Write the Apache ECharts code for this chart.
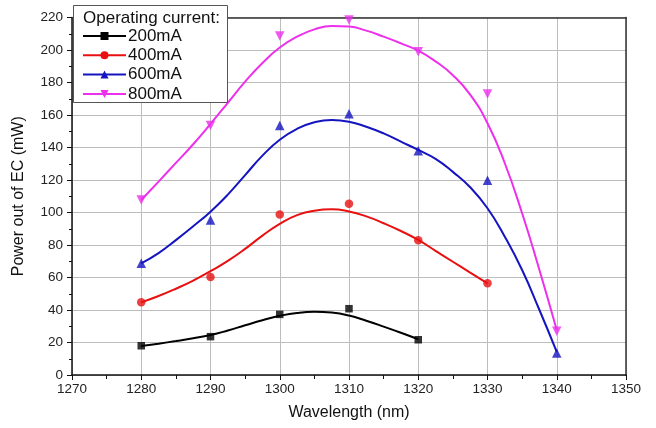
<!DOCTYPE html>
<html>
<head>
<meta charset="utf-8">
<script src="https://cdn.jsdelivr.net/npm/echarts@6/dist/echarts.min.js"></script>
<style>
  html, body { margin: 0; padding: 0; background: #fff; }
  #chart { width: 656px; height: 428px; }
</style>
</head>
<body>
<div id="chart"></div>
<script>
// measured points
var wavelength = [1280, 1290, 1300, 1310, 1320, 1330, 1340];
var p200 = [18, 23.6, 37.3, 40.8, 21.7];
var p400 = [44.7, 60.3, 98.7, 105.4, 82.9, 56.4];
var p600 = [68.7, 95.4, 153.6, 160.8, 138, 119.8, 13.5];
var p800 = [107.7, 153.6, 208.6, 218.5, 199, 173, 27];

// fitted curves, every 2.5 nm
var fitX = [1280, 1282.5, 1285, 1287.5, 1290, 1292.5, 1295, 1297.5, 1300, 1302.5, 1305, 1307.5, 1310,
            1312.5, 1315, 1317.5, 1320, 1322.5, 1325, 1327.5, 1330, 1332.5, 1335, 1337.5, 1340];
var fit200 = [17.8, 19.3, 20.9, 22.6, 24.6, 27.4, 30.6, 33.7, 36.4, 38.2, 38.9, 38.4, 36.6,
              33.4, 29.8, 26, 22];
var fit400 = [44.7, 48.6, 53.1, 58.1, 63.9, 70.2, 77.6, 85.8, 93, 98.4, 101.1, 102, 100.6,
              97.6, 93.4, 88.6, 83.1, 76.4, 69.7, 63, 56.4];
var fit600 = [68.7, 75, 83, 91.5, 100.5, 111, 123, 135, 144.8, 151.5, 155.5, 156.9, 155.9,
              152.8, 148.7, 143.6, 138.5, 133, 125, 115.5, 102.6, 85.1, 64.6, 40, 14.3];
var fit800 = [107.7, 119, 130.5, 142, 154.5, 167.5, 180.5, 192, 201.5, 208.2, 212.7, 214.8, 214.4,
              211.9, 208.2, 204.1, 199.6, 193, 184.5, 172.5, 154.9, 130.3, 99.5, 64.6, 27.7];

var names = ['200mA', '400mA', '600mA', '800mA'];
var colors = ['#000000', '#e81010', '#1414c0', '#ec30ec'];
var symbols = ['rect', 'circle', 'triangle', 'triangle'];
var rotates = [0, 0, 0, 180];
var sizes = [7.5, 8.5, 9.5, 9.5];

function pairs(xs, ys) {
  return ys.map(function (v, i) { return [xs[i], v]; });
}

var fits = [fit200, fit400, fit600, fit800];
var pts = [p200, p400, p600, p800];

var series = [];
names.forEach(function (n, i) {
  series.push({
    name: n,
    type: 'line',
    smooth: 0.5,
    showSymbol: false,
    symbol: symbols[i],
    symbolRotate: rotates[i],
    data: pairs(fitX, fits[i]),
    lineStyle: { color: colors[i], width: 2 },
    itemStyle: { color: colors[i] },
    z: 3
  });
});
names.forEach(function (n, i) {
  series.push({
    name: n,
    type: 'scatter',
    symbol: symbols[i],
    symbolRotate: rotates[i],
    symbolSize: sizes[i],
    data: pairs(wavelength, pts[i]),
    itemStyle: { color: colors[i] },
    z: 4
  });
});

var chart = echarts.init(document.getElementById('chart'));

var option = {
  animation: false,
  textStyle: { fontFamily: 'Liberation Sans, Arial, sans-serif' },
  grid: { left: 72, right: 30, top: 17.5, bottom: 53 },
  title: {
    text: 'Operating current:',
    left: 83,
    top: 10,
    padding: 0,
    z: 20,
    textStyle: { fontSize: 17, fontWeight: 'normal', color: '#111' }
  },
  legend: {
    data: names,
    orient: 'vertical',
    left: 82,
    top: 27.5,
    padding: 0,
    itemWidth: 43,
    itemHeight: 10,
    itemGap: 2.3,
    z: 20,
    textStyle: { fontSize: 17, color: '#111', lineHeight: 17, padding: [0, 0, 0, -3] }
  },
  graphic: [{
    type: 'rect',
    z: 15,
    shape: { x: 73.5, y: 5.5, width: 154, height: 97 },
    style: { fill: '#fff', stroke: '#555', lineWidth: 1 }
  }],
  xAxis: [{
    type: 'value',
    min: 1270,
    max: 1350,
    interval: 10,
    name: 'Wavelength (nm)',
    nameLocation: 'middle',
    nameGap: 30,
    nameTextStyle: { fontSize: 16, color: '#111' },
    axisLine: { lineStyle: { color: '#111', width: 1.5 } },
    axisTick: { inside: false, length: 5, lineStyle: { color: '#111' } },
    minorTick: { show: true, splitNumber: 2, length: 4, lineStyle: { color: '#111' } },
    axisLabel: { fontSize: 13.5, color: '#222', margin: 7, formatter: function (v) { return String(v); } },
    splitLine: { show: true, lineStyle: { color: '#bdbdbd', width: 1 } }
  }, {
    type: 'value',
    position: 'top',
    min: 1270,
    max: 1350,
    axisLine: { show: true, onZero: false, lineStyle: { color: '#333', width: 1.5 } },
    axisTick: { show: false },
    axisLabel: { show: false },
    splitLine: { show: false }
  }],
  yAxis: [{
    type: 'value',
    min: 0,
    max: 220,
    interval: 20,
    name: 'Power out of EC (mW)',
    nameLocation: 'middle',
    nameGap: 45,
    nameTextStyle: { fontSize: 16, color: '#111' },
    axisLine: { show: true, lineStyle: { color: '#111', width: 1.5 } },
    axisTick: { show: true, inside: false, length: 5, lineStyle: { color: '#111' } },
    minorTick: { show: true, splitNumber: 2, length: 3, lineStyle: { color: '#111' } },
    axisLabel: { fontSize: 13.5, color: '#222', margin: 9 },
    splitLine: { show: true, lineStyle: { color: '#bdbdbd', width: 1 } }
  }, {
    type: 'value',
    position: 'right',
    min: 0,
    max: 220,
    axisLine: { show: true, onZero: false, lineStyle: { color: '#333', width: 1.5 } },
    axisTick: { show: false },
    axisLabel: { show: false },
    splitLine: { show: false }
  }],
  series: series
};

chart.setOption(option);
</script>
</body>
</html>
